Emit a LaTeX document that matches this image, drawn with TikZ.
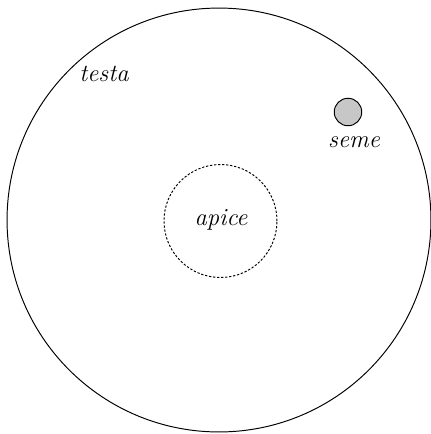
\documentclass[tikz,border=0pt]{standalone}
\usepackage{xcolor}
\usepackage{tikz}
\usetikzlibrary{positioning}

\begin{document}
\begin{tikzpicture}[x=0.02cm,y=-0.02cm,
  every node/.style={font=\fontsize{14}{16}\selectfont\itshape},
  ring/.style={circle,draw,line width=0.55pt,inner sep=0pt},
  tip/.style={circle,draw,dash pattern=on 1.3pt off 1pt,line width=0.55pt,inner sep=0pt},
  seed/.style={circle,draw,fill=black!22,line width=0.55pt,inner sep=0pt},
  lbl/.style={inner sep=1pt}]
  \useasboundingbox (0,0) rectangle (431,434);
  \node[ring,minimum size=8.48cm] (testa) at (219,220) {};
  \node[tip,minimum size=2.26cm] (apice) at (220.5,221) {};
  \node[seed,minimum size=0.55cm] (seme) at (348,112) {};
  \node[lbl] (testalbl) at (104,74) {testa};
  \node[lbl] (apicelbl) at (221,220) {apice};
  \node[lbl] (semelbl) at (354,142) {seme};
\end{tikzpicture}
\end{document}
